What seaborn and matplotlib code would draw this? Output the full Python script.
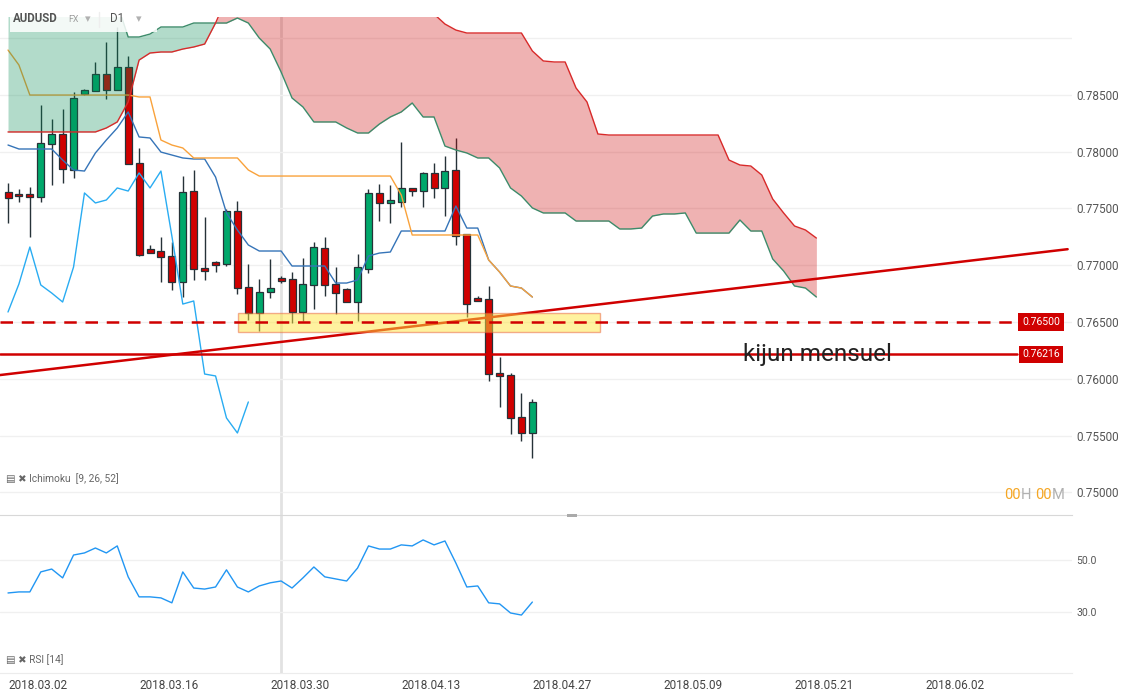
import matplotlib
matplotlib.use("Agg")
import matplotlib.pyplot as plt
import matplotlib.patches as mpatches
import matplotlib.transforms as mtransforms
import seaborn as sns
import numpy as np

sns.set_style("white")
plt.rcParams['font.family'] = ['Roboto', 'DejaVu Sans']

# --- daily AUDUSD candles (2018.03.02 -> 2018.04.27) ---
opens = [0.77644, 0.77627, 0.77627, 0.77600, 0.78067, 0.78155, 0.77838, 0.78507, 0.78533, 0.78683,
         0.78542, 0.78745, 0.77900, 0.77143, 0.77125, 0.77081, 0.76852, 0.77653, 0.76975, 0.77028,
         0.77011, 0.77477, 0.76808, 0.76579, 0.76764, 0.76887, 0.76879, 0.76588, 0.76826, 0.77151,
         0.76835, 0.76791, 0.76676, 0.76967, 0.77636, 0.77548, 0.77556, 0.77680, 0.77653, 0.77812,
         0.77680, 0.77838, 0.77275, 0.76711, 0.76702, 0.76051, 0.76033, 0.75664, 0.75523]
highs = [0.77724, 0.77671, 0.77688, 0.78410, 0.78287, 0.78375, 0.78525, 0.78551, 0.78789, 0.78965,
         0.79100, 0.78842, 0.78032, 0.77178, 0.77248, 0.77204, 0.77785, 0.77838, 0.77424, 0.77037,
         0.77495, 0.77565, 0.77011, 0.76879, 0.77055, 0.76905, 0.76940, 0.77063, 0.77204, 0.77248,
         0.76984, 0.76799, 0.77099, 0.77671, 0.77715, 0.77706, 0.78084, 0.77680, 0.77820, 0.77900,
         0.77961, 0.78120, 0.77275, 0.76729, 0.76817, 0.76192, 0.76051, 0.75875, 0.75822]
lows = [0.77372, 0.77556, 0.77248, 0.77556, 0.77706, 0.77724, 0.77768, 0.78498, 0.78533, 0.78463,
        0.78542, 0.77891, 0.77081, 0.77107, 0.76852, 0.76782, 0.76720, 0.76870, 0.76870, 0.76940,
        0.76993, 0.76746, 0.76518, 0.76421, 0.76711, 0.76843, 0.76491, 0.76509, 0.76614, 0.76729,
        0.76570, 0.76676, 0.76509, 0.76931, 0.77389, 0.77372, 0.77512, 0.77609, 0.77512, 0.77592,
        0.77433, 0.77178, 0.76544, 0.76685, 0.75981, 0.75752, 0.75514, 0.75452, 0.75303]
closes = [0.77592, 0.77609, 0.77600, 0.78076, 0.78155, 0.77847, 0.78472, 0.78542, 0.78683, 0.78542,
          0.78745, 0.77891, 0.77090, 0.77107, 0.77072, 0.76852, 0.77644, 0.76967, 0.76949, 0.77002,
          0.77477, 0.76799, 0.76579, 0.76764, 0.76799, 0.76861, 0.76588, 0.76835, 0.77160, 0.76826,
          0.76755, 0.76676, 0.76984, 0.77636, 0.77548, 0.77574, 0.77680, 0.77653, 0.77812, 0.77680,
          0.77829, 0.77257, 0.76658, 0.76685, 0.76042, 0.76025, 0.75655, 0.75523, 0.75796]

# --- Ichimoku [9, 26, 52] ---
tenkan = [0.78058, 0.78023, 0.78023, 0.78023, 0.78023, 0.77926, 0.77838, 0.77829, 0.77988, 0.78102,
          0.78208, 0.78349, 0.78129, 0.78120, 0.77996, 0.77970, 0.77944, 0.77935, 0.77935, 0.77776,
          0.77460, 0.77310, 0.77178, 0.77125, 0.77125, 0.77125, 0.76993, 0.76993, 0.76993, 0.76993,
          0.76843, 0.76843, 0.76870, 0.77081, 0.77107, 0.77116, 0.77301, 0.77301, 0.77301, 0.77301,
          0.77301, 0.77521, 0.77327, 0.77327, 0.77046, 0.76940, 0.76817, 0.76799, 0.76720]
kijun = [0.78894, 0.78762, 0.78498, 0.78498, 0.78498, 0.78498, 0.78498, 0.78498, 0.78498, 0.78498,
         0.78498, 0.78498, 0.78481, 0.78481, 0.78102, 0.78058, 0.78032, 0.77944, 0.77944, 0.77944,
         0.77944, 0.77944, 0.77838, 0.77785, 0.77785, 0.77785, 0.77785, 0.77785, 0.77785, 0.77785,
         0.77785, 0.77785, 0.77785, 0.77785, 0.77785, 0.77785, 0.77618, 0.77266, 0.77266, 0.77266,
         0.77266, 0.77266, 0.77266, 0.77266, 0.77046, 0.76940, 0.76817, 0.76799, 0.76720]
span_a = [0.7930, 0.7930, 0.7930, 0.7930, 0.7930, 0.7930, 0.7930, 0.7930, 0.7930, 0.7930,
          0.7930, 0.79009, 0.79009, 0.79035, 0.79097, 0.79097, 0.79097, 0.79132, 0.79132, 0.79132,
          0.79132, 0.79176, 0.79132, 0.79000, 0.78903, 0.78701, 0.78472, 0.78393, 0.78261, 0.78261,
          0.78261, 0.78208, 0.78164, 0.78164, 0.78243, 0.78305, 0.78349, 0.78428, 0.78305, 0.78305,
          0.78049, 0.78014, 0.77988, 0.77944, 0.77944, 0.77856, 0.77680, 0.77609, 0.77504, 0.77460,
          0.77460, 0.77460, 0.77389, 0.77389, 0.77389, 0.77389, 0.77319, 0.77319, 0.77327, 0.77433,
          0.77451, 0.77451, 0.77460, 0.77283, 0.77283, 0.77283, 0.77283, 0.77398, 0.77301, 0.77301,
          0.77055, 0.76949, 0.76817, 0.76799, 0.76720]
span_b = [0.78173, 0.78173, 0.78173, 0.78173, 0.78173, 0.78173, 0.78173, 0.78173, 0.78173, 0.78208,
          0.78261, 0.78437, 0.78806, 0.78868, 0.78877, 0.78877, 0.78903, 0.78921, 0.78947, 0.79132,
          0.7935, 0.7935, 0.7935, 0.7935, 0.7935, 0.7935, 0.7935, 0.7935, 0.7935, 0.7935,
          0.7935, 0.7935, 0.7935, 0.7935, 0.7935, 0.7935, 0.7935, 0.7935, 0.7935, 0.79211,
          0.79123, 0.79070, 0.79044, 0.79044, 0.79044, 0.79044, 0.79044, 0.79044, 0.78886, 0.78798,
          0.78789, 0.78789, 0.78560, 0.78437, 0.78155, 0.78146, 0.78146, 0.78146, 0.78146, 0.78146,
          0.78146, 0.78146, 0.78146, 0.78146, 0.78146, 0.78146, 0.77926, 0.77882, 0.77873, 0.77794,
          0.77583, 0.77460, 0.77345, 0.77310, 0.77239]
chikou_shift = 26

# --- RSI [14] ---
rsi = [37.3, 37.7, 37.7, 45.4, 46.5, 43.1, 51.9, 52.7, 54.6, 52.7,
       55.4, 43.5, 35.8, 35.8, 35.4, 33.5, 45.4, 39.2, 38.8, 39.6,
       46.2, 39.6, 37.7, 40.0, 41.2, 41.9, 39.2, 43.1, 47.3, 43.5,
       42.7, 41.9, 46.9, 55.4, 54.2, 54.2, 55.8, 55.4, 57.7, 55.8,
       57.3, 48.8, 39.6, 40.0, 33.5, 33.1, 29.6, 28.8, 33.8]

# --- axis labels and drawings ---
date_bars = [0, 12, 24, 36, 48, 60, 72, 84]
date_labels = ['2018.03.02', '2018.03.16', '2018.03.30', '2018.04.13',
               '2018.04.27', '2018.05.09', '2018.05.21', '2018.06.02']
price_ticks = [0.750, 0.755, 0.760, 0.765, 0.770, 0.775, 0.780, 0.785, 0.790]
rsi_ticks = [30, 50]
level_dashed = 0.76500
level_kijun = 0.76216
trend_bars = [-1, 97]
trend_prices = [0.76030, 0.77141]
zone_bars = [21.06, 54.2]
zone_prices = [0.76412, 0.76579]
cursor_bar = 25

GREEN = '#00a86b'
RED = '#d00000'
EDGE = '#263238'

W, H = 1133, 699


def fx(px):
    return px / W


def fy(py):
    return 1 - py / H


fig = plt.figure(figsize=(W / 100, H / 100), dpi=100)
ax = fig.add_axes([0, fy(515), fx(1072), (515 - 17) / H])
ax_rsi = fig.add_axes([0, fy(673), fx(1072), (673 - 515) / H])

xlim = (-0.733, 97.4)

# candles
o, h, l, c = map(np.array, (opens, highs, lows, closes))
bars = np.arange(len(c))
up = c >= o
ax.vlines(bars, l, h, color=EDGE, lw=1, zorder=2)
ax.bar(bars, np.maximum(np.abs(c - o), 0.00003), bottom=np.minimum(o, c), width=0.64,
       color=np.where(up, GREEN, RED), edgecolor=EDGE, linewidth=0.9, zorder=3)

# ichimoku lines
sns.lineplot(x=bars, y=tenkan, ax=ax, color='#3574b8', linewidth=1, zorder=4)
sns.lineplot(x=bars, y=kijun, ax=ax, color='#f9a23b', linewidth=1, zorder=4)
sns.lineplot(x=bars[:-chikou_shift], y=c[chikou_shift:], ax=ax, color='#29acf2',
             linewidth=1, zorder=4)

cloud_x = np.arange(len(span_a))
sa, sb = np.array(span_a), np.array(span_b)
ax.fill_between(cloud_x, sa, sb, where=sa >= sb, interpolate=True,
                color='#028a52', alpha=0.3, lw=0, zorder=5)
ax.fill_between(cloud_x, sa, sb, where=sa < sb, interpolate=True,
                color='#cd0000', alpha=0.3, lw=0, zorder=5)
sns.lineplot(x=cloud_x, y=sa, ax=ax, color='#3c8b6a', linewidth=1, zorder=6)
sns.lineplot(x=cloud_x, y=sb, ax=ax, color='#d82a2a', linewidth=1, zorder=6)

# drawings
ax.plot(trend_bars, trend_prices, color=RED, lw=1.8, zorder=6)
zone = mpatches.Rectangle((zone_bars[0], zone_prices[0]), zone_bars[1] - zone_bars[0],
                          zone_prices[1] - zone_prices[0], facecolor='#ffe640', alpha=0.5,
                          edgecolor='#e8603a', lw=1, zorder=7)
ax.add_patch(zone)
ax.axhline(level_dashed, xmax=1017 / 1072, color=RED, lw=1.8, ls=(0, (5, 3.5)), zorder=8)
ax.axhline(level_kijun, xmax=1017 / 1072, color=RED, lw=1.8, zorder=8)

blend = mtransforms.blended_transform_factory(ax.transAxes, ax.transData)
for lvl in (level_dashed, level_kijun):
    ax.text(1041 / 1072, lvl, f'{lvl:.5f}', transform=blend, ha='center', va='center',
            color='white', fontsize=7.5, zorder=9,
            bbox=dict(boxstyle='square,pad=0.35', fc=RED, ec='none'))
ax.text(74.1, level_kijun, 'kijun mensuel', ha='center', va='center', fontsize=17.5,
        color='#222222', zorder=9)

for a in (ax, ax_rsi):
    a.axvline(cursor_bar, color='#e2e2e2', lw=2, zorder=0)
    a.set_xlim(*xlim)
    a.yaxis.tick_right()
    a.grid(axis='y', color='#f0f0f0', lw=1)
    a.grid(axis='x', visible=False)
    for s in a.spines.values():
        s.set_visible(False)

ax.set_ylim(0.74801, 0.79185)
ax.set_yticks(price_ticks)
ax.set_yticklabels([f'{t:.5f}' if t < 0.789 else '' for t in price_ticks])
ax.tick_params(axis='y', length=0, pad=3, labelsize=8.5, labelcolor='#555555')
ax.set_xticks([])
ax.set_xlabel('')
ax.set_ylabel('')

# RSI panel
sns.lineplot(x=bars, y=rsi, ax=ax_rsi, color='#2196f3', linewidth=1)
ax_rsi.set_ylim(6.5, 67.3)
ax_rsi.set_yticks(rsi_ticks)
ax_rsi.set_yticklabels([f'{t:.1f}' for t in rsi_ticks])
ax_rsi.tick_params(axis='y', length=0, pad=3, labelsize=7.5, labelcolor='#555555')
ax_rsi.set_xticks(date_bars)
ax_rsi.set_xticklabels(date_labels)
for lbl in ax_rsi.get_xticklabels():
    lbl.set_horizontalalignment('left')
ax_rsi.tick_params(axis='x', length=0, pad=4, labelsize=8.5, labelcolor='#444444')
ax_rsi.spines['top'].set_visible(True)
ax_rsi.spines['top'].set_color('#d8d8d8')
ax_rsi.spines['bottom'].set_visible(True)
ax_rsi.spines['bottom'].set_color('#ececec')
ax_rsi.set_xlabel('')
ax_rsi.set_ylabel('')

# header and panel captions
fig.add_artist(mpatches.Rectangle((fx(10), fy(32)), 147 / W, 22 / H, transform=fig.transFigure,
                                  facecolor='white', alpha=0.85, edgecolor='none'))
fig.text(fx(13), fy(19), 'AUDUSD', fontsize=8.3, fontweight='bold', color='#555555', va='center')
fig.text(fx(68), fy(19), 'FX', fontsize=6.3, color='#9e9e9e', va='center')
fig.text(fx(85), fy(19), '▾', fontsize=8, color='#b0b0b0', va='center')
fig.add_artist(plt.Line2D([fx(99), fx(99)], [fy(12), fy(27)], color='#eeeeee', lw=1))
fig.text(fx(110), fy(19), 'D1', fontsize=8.3, color='#555555', va='center')
fig.text(fx(136), fy(19), '▾', fontsize=8, color='#b0b0b0', va='center')

fig.text(fx(6), fy(479), '▤ ✖ Ichimoku  [9, 26, 52]', fontsize=7.3, color='#666666', va='center')
fig.text(fx(6), fy(660), '▤ ✖ RSI [14]', fontsize=7.3, color='#666666', va='center')
fig.add_artist(mpatches.Rectangle((fx(567), fy(517)), 10 / W, 3 / H, transform=fig.transFigure,
                                  facecolor='#aaaaaa', edgecolor='none'))

for px, txt, col in [(1004, '00', '#f5a623'), (1021, 'H', '#b0b0b0'),
                     (1035, '00', '#f5a623'), (1052, 'M', '#b0b0b0')]:
    fig.text(fx(px), fy(495), txt, fontsize=10.5, color=col, va='center')

fig.savefig('out.png', dpi=100)
